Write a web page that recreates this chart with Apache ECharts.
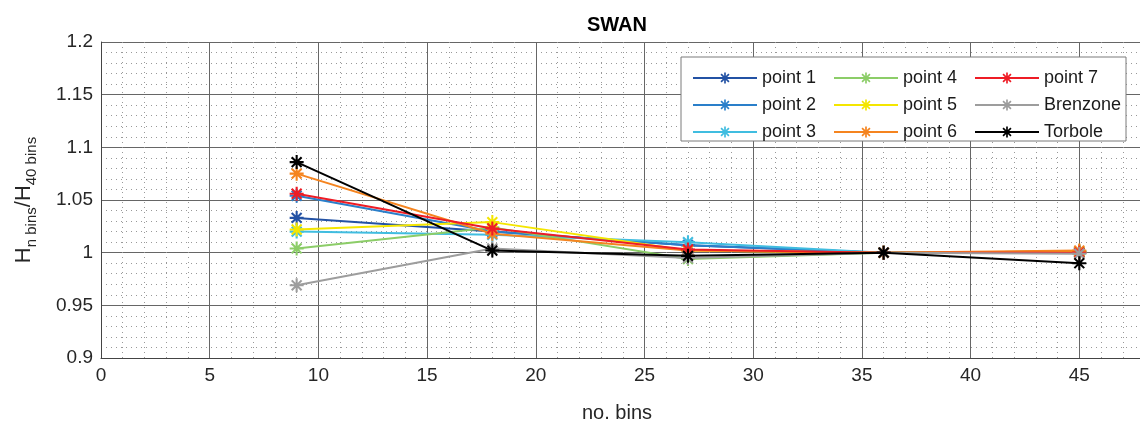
<!DOCTYPE html>
<html>
<head>
<meta charset="utf-8">
<script src="https://cdn.jsdelivr.net/npm/echarts@6/dist/echarts.min.js"></script>
<style>
  html, body { margin: 0; padding: 0; background: #fff; }
  #chart { width: 1140px; height: 425px; }
</style>
</head>
<body>
<div id="chart"></div>
<script>
// number of bins on the x axis
const bins = [9, 18, 27, 36, 45];

// H(n bins) / H(40 bins)
const point1 = [1.033, 1.020, 1.007, 1.000, 1.000];
const point2 = [1.054, 1.020, 1.007, 1.000, 1.001];
const point3 = [1.020, 1.017, 1.010, 1.000, 1.001];
const point4 = [1.004, 1.024, 0.994, 1.000, 1.000];
const point5 = [1.022, 1.029, 1.002, 1.000, 1.001];
const point6 = [1.075, 1.018, 1.002, 1.000, 1.002];
const point7 = [1.056, 1.023, 1.003, 1.000, 1.000];
const brenzone = [0.969, 1.004, 0.995, 1.000, 0.999];
const torbole = [1.086, 1.002, 0.997, 1.000, 0.990];

const seriesNames = ["point 1", "point 2", "point 3", "point 4", "point 5", "point 6", "point 7", "Brenzone", "Torbole"];
const seriesValues = [point1, point2, point3, point4, point5, point6, point7, brenzone, torbole];
const colors = ["#2352a4", "#2a7fca", "#40bde0", "#8ccd68", "#f4e600", "#f5841f", "#ee1c25", "#9d9d9d", "#000000"];

// MATLAB style '*' marker
const asterisk =
  "path://M8.5 0L11.5 0L11.5 20L8.5 20Z" +
  "M0 8.5L20 8.5L20 11.5L0 11.5Z" +
  "M4 1.9L18.1 16L16 18.1L1.9 4Z" +
  "M16 1.9L18.1 4L4 18.1L1.9 16Z";

const font = "Liberation Sans, Arial, sans-serif";

const chart = echarts.init(document.getElementById("chart"));

const legendBase = {
  orient: "vertical",
  top: 63,
  z: 5,
  itemWidth: 64,
  itemHeight: 14,
  itemGap: 7,
  textStyle: { fontFamily: font, fontSize: 18, color: "#1a1a1a", lineHeight: 20 },
};

const option = {
  animation: false,
  color: colors,
  title: [
    {
      text: "SWAN",
      left: 612,
      top: 10,
      textAlign: "center",
      textStyle: { fontFamily: font, fontSize: 20, fontWeight: "bold", color: "#000" },
    },
    {
      text: "no. bins",
      left: 612,
      top: 398,
      textAlign: "center",
      textStyle: { fontFamily: font, fontSize: 20, fontWeight: "normal", color: "#262626" },
    },
  ],
  grid: { left: 101, right: -48, top: 42, bottom: 67, outerBoundsMode: "none" },
  legend: [
    Object.assign({ left: 687, data: ["point 1", "point 2", "point 3"] }, legendBase),
    Object.assign({ left: 828, data: ["point 4", "point 5", "point 6"] }, legendBase),
    Object.assign({ left: 969, data: ["point 7", "Brenzone", "Torbole"] }, legendBase),
  ],
  graphic: [
    {
      type: "rect",
      z: 3,
      shape: { x: 681, y: 57, width: 445, height: 84 },
      style: { fill: "#fff", stroke: "#7a7a7a", lineWidth: 1 },
    },
  ],
  xAxis: {
    type: "value",
    min: 0,
    max: 50,
    interval: 5,
    axisLine: { onZero: false, lineStyle: { color: "#444", width: 1 } },
    axisTick: { show: false },
    axisLabel: { fontFamily: font, fontSize: 19, color: "#262626", margin: 8 },
    splitLine: { show: true, lineStyle: { color: "#666", width: 1 } },
    minorTick: { show: false, splitNumber: 5 },
    minorSplitLine: { show: true, lineStyle: { color: "#999", width: 1, type: [1, 4] } },
  },
  yAxis: {
    type: "value",
    min: 0.9,
    max: 1.2,
    interval: 0.05,
    name: "{m|H}{s|n bins}{m|/H}{s|40 bins}",
    nameLocation: "middle",
    nameGap: 62,
    nameTextStyle: {
      fontFamily: font,
      color: "#262626",
      rich: {
        m: { fontFamily: font, fontSize: 22, color: "#262626", lineHeight: 30, verticalAlign: "middle" },
        s: { fontFamily: font, fontSize: 15, color: "#262626", lineHeight: 30, verticalAlign: "bottom", padding: [10, 0, 0, 0] },
      },
    },
    axisLine: { show: true, lineStyle: { color: "#444", width: 1 } },
    axisTick: { show: false },
    axisLabel: { fontFamily: font, fontSize: 19, color: "#262626", margin: 8 },
    splitLine: { show: true, lineStyle: { color: "#666", width: 1 } },
    minorTick: { show: false, splitNumber: 5 },
    minorSplitLine: { show: true, lineStyle: { color: "#999", width: 1, type: [1, 4] } },
  },
  series: seriesNames.map((name, i) => ({
    name: name,
    type: "line",
    data: bins.map((b, j) => [b, seriesValues[i][j]]),
    symbol: asterisk,
    symbolSize: 14,
    showAllSymbol: true,
    lineStyle: { width: 2, color: colors[i] },
    itemStyle: { color: colors[i] },
    z: 2 + i * 0.01,
  })),
};

chart.setOption(option);
</script>
</body>
</html>
